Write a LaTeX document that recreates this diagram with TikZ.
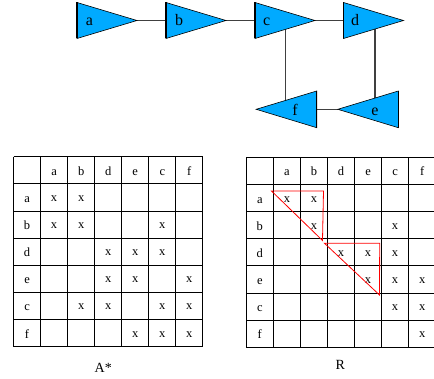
\documentclass[tikz,border=0pt]{standalone}
\usepackage{fontspec}
\setmainfont{Liberation Serif}
\definecolor{trifill}{RGB}{0,170,255}
\begin{document}
\begin{tikzpicture}[x=1pt,y=-1pt,
  tri/.style={fill=trifill,draw=black,line width=0.6pt,line join=miter},
  flatside/.style={draw=black,line width=1.4pt},
  link/.style={draw=black!75,line width=1.1pt},
  tlabel/.style={font=\fontsize{16}{16}\selectfont,anchor=base,inner sep=0pt},
  gridline/.style={draw=black,line width=0.9pt},
  cell/.style={font=\fontsize{12.5}{12.5}\selectfont,anchor=base,inner sep=0pt},
  mtitle/.style={font=\fontsize{14}{14}\selectfont,anchor=base,inner sep=0pt},
  block/.style={draw=red,line width=0.8pt,line join=miter}]
\useasboundingbox (0,0) rectangle (434,379);
\clip (0,0) rectangle (434,379);

% ---------- graph: connection points ----------
\foreach \n/\l in {a/77,b/166,c/255,d/343.5}{
  \coordinate (\n-flat) at (\l,20.5);
  \coordinate (\n-tip) at ({\l+60},20.5);
}
\foreach \n/\r in {f/316.7,e/398.3}{
  \coordinate (\n-flat) at (\r,109.3);
  \coordinate (\n-tip) at ({\r-60.5},109.3);
}
\coordinate (c-drop) at (285.7,25);
\coordinate (f-top)  at (285.7,105);
\coordinate (d-drop) at (375,25);
\coordinate (e-top)  at (375,105);

% connectors (drawn below the triangles)
\draw[link] (a-tip) -- (b-flat);
\draw[link] (b-tip) -- (c-flat);
\draw[link] (c-tip) -- (d-flat);
\draw[link] (e-tip) -- (f-flat);
\draw[link] (c-drop) -- (f-top);
\draw[link] (d-drop) -- (e-top);

% triangles
\foreach \n/\l in {a/77,b/166,c/255,d/343.5}{
  \filldraw[tri] (\l,2.5) -- ({\l+60},20.5) -- (\l,38.5) -- cycle;
  \draw[flatside] (\l,2.5) -- (\l,38.5);
}
\foreach \n/\r in {f/316.7,e/398.3}{
  \filldraw[tri] (\r,91) -- ({\r-60.5},109.3) -- (\r,127.7) -- cycle;
  \draw[flatside] (\r,91) -- (\r,127.7);
}
\node[tlabel] (la) at (89.3,26) {a};
\node[tlabel] (lb) at (179,26) {b};
\node[tlabel] (lc) at (266.7,26) {c};
\node[tlabel] (ld) at (355,26) {d};
\node[tlabel] (lf) at (295,116) {f};
\node[tlabel] (le) at (375,116) {e};

% ---------- left matrix A* ----------
\foreach \i in {0,...,7}{
  \draw[gridline] ({13.5+27.05*\i},156.7) -- ({13.5+27.05*\i},346.7);
  \draw[gridline] (13.5,{156.7+27.14*\i}) -- (202.85,{156.7+27.14*\i});
}
\foreach \t [count=\k] in {a,b,d,e,c,f}{
  \node[cell] (L-h\k) at ({13.5+27.05*(\k+0.5)},{156.7+27.14*0.5+5}) {\t};
  \node[cell] (L-r\k) at ({13.5+27.05*0.5},{156.7+27.14*(\k+0.5)+5}) {\t};
}
\foreach \r/\c in {1/1,1/2,2/1,2/2,2/5,3/3,3/4,3/5,4/3,4/4,4/6,5/2,5/3,5/5,5/6,6/4,6/5,6/6}{
  \node[cell] (L-x\r\c) at ({13.5+27.05*(\c+0.5)},{156.7+27.14*(\r+0.5)+4}) {x};
}
\node[mtitle] (titleA) at (103.3,372.7) {A*};

% ---------- right matrix R ----------
\foreach \i in {0,...,7}{
  \draw[gridline] ({246.3+27.05*\i},157.3) -- ({246.3+27.05*\i},347.3);
  \draw[gridline] (246.3,{157.3+27.14*\i}) -- (435.65,{157.3+27.14*\i});
}
\foreach \t [count=\k] in {a,b,d,e,c,f}{
  \node[cell] (R-h\k) at ({246.3+27.05*(\k+0.5)},{157.3+27.14*0.5+5}) {\t};
  \node[cell] (R-r\k) at ({246.3+27.05*0.5},{157.3+27.14*(\k+0.5)+5}) {\t};
}
\foreach \r/\c in {1/1,1/2,2/2,2/5,3/3,3/4,3/5,4/4,4/5,4/6,5/5,5/6,6/6}{
  \node[cell] (R-x\r\c) at ({246.3+27.05*(\c+0.5)},{157.3+27.14*(\r+0.5)+4}) {x};
}
\node[mtitle] (titleR) at (340.3,370) {R};

% diagonal blocks
\draw[block] (271.5,191) -- (323.5,191) -- (322.5,240.5) -- cycle;
\draw[block] (324.5,243.3) -- (379.7,243.3) -- (379.5,295) -- cycle;
\end{tikzpicture}
\end{document}
